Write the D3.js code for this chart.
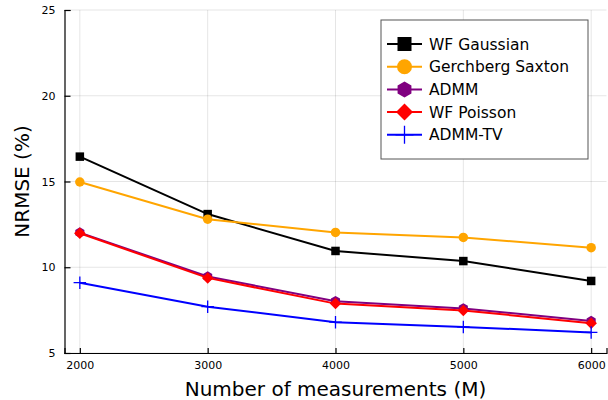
<!DOCTYPE html>
<html>
<head>
<meta charset="utf-8">
<script src="https://cdn.jsdelivr.net/npm/d3@7"></script>
<style>
  body { margin: 0; background: #fff; }
  svg { display: block; font-family: "DejaVu Sans", sans-serif; }
</style>
</head>
<body>
<script>
// canvas
var w = 608;
var h = 400;

// data
var measurements = [2000, 3000, 4000, 5000, 6000];
var wfGaussian = [16.45, 13.1, 10.95, 10.36, 9.2];
var gerchbergSaxton = [14.97, 12.8, 12.03, 11.74, 11.14];
var admm = [12.02, 9.46, 8.02, 7.6, 6.86];
var wfPoisson = [11.98, 9.38, 7.88, 7.48, 6.74];
var admmTv = [9.1, 7.7, 6.8, 6.52, 6.2];
var xTicks = [2000, 3000, 4000, 5000, 6000];
var yTicks = [5, 10, 15, 20, 25];

var series = [
  {name: "WF Gaussian", values: wfGaussian, color: "#000000", marker: "square"},
  {name: "Gerchberg Saxton", values: gerchbergSaxton, color: "#FFA500", marker: "circle"},
  {name: "ADMM", values: admm, color: "#800080", marker: "hexagon"},
  {name: "WF Poisson", values: wfPoisson, color: "#FF0000", marker: "diamond"},
  {name: "ADMM-TV", values: admmTv, color: "#0000FF", marker: "cross"}
];

var plotLeft = 64.5, plotRight = 606.5, plotTop = 10, plotBottom = 353;

var x = d3.scaleLinear().domain([1880, 6120]).range([plotLeft, plotRight]);
var y = d3.scaleLinear().domain([5, 25]).range([plotBottom, plotTop]);

var svg = d3.select("body").append("svg")
  .attr("width", w)
  .attr("height", h);

// grid
svg.append("g").selectAll("line").data(xTicks).enter().append("line")
  .attr("x1", function(d) { return x(d); }).attr("x2", function(d) { return x(d); })
  .attr("y1", plotTop).attr("y2", plotBottom)
  .attr("stroke", "#000").attr("stroke-opacity", 0.1).attr("stroke-width", 1);
svg.append("g").selectAll("line").data(yTicks).enter().append("line")
  .attr("x1", plotLeft).attr("x2", plotRight)
  .attr("y1", function(d) { return y(d); }).attr("y2", function(d) { return y(d); })
  .attr("stroke", "#000").attr("stroke-opacity", 0.1).attr("stroke-width", 1);

// axes (inward ticks)
var xAxis = svg.append("g")
  .attr("transform", "translate(0," + plotBottom + ")")
  .call(d3.axisTop(x).tickValues(xTicks).tickSize(5).tickFormat(d3.format("d")));
xAxis.selectAll("text").attr("y", 16).attr("dy", 0).attr("font-size", 11).attr("fill", "#000");
var yAxis = svg.append("g")
  .attr("transform", "translate(" + plotLeft + ",0)")
  .call(d3.axisRight(y).tickValues(yTicks).tickSize(6).tickFormat(d3.format("d")));
yAxis.selectAll("text").attr("x", -9).attr("text-anchor", "end").attr("font-size", 11).attr("fill", "#000");
[xAxis, yAxis].forEach(function(a) {
  a.select(".domain").attr("stroke", "#000").attr("stroke-width", 1.2);
  a.selectAll(".tick line").attr("stroke", "#000").attr("stroke-width", 1.2);
  a.attr("font-family", null);
});

// titles
svg.append("text")
  .attr("x", (plotLeft + plotRight) / 2).attr("y", 396)
  .attr("text-anchor", "middle").attr("font-size", 20)
  .text("Number of measurements (M)");
svg.append("text")
  .attr("transform", "translate(29," + ((plotTop + plotBottom) / 2) + ") rotate(-90)")
  .attr("text-anchor", "middle").attr("font-size", 20)
  .text("NRMSE (%)");

function drawMarker(g, type, color, s) {
  if (type == "square") {
    g.append("rect").attr("x", -s / 2).attr("y", -s / 2).attr("width", s).attr("height", s).attr("fill", color);
  } else if (type == "circle") {
    g.append("circle").attr("r", s / 2 + 0.5).attr("fill", color);
  } else if (type == "hexagon") {
    var r = s / 2 + 1;
    var pts = d3.range(6).map(function(k) {
      var a = Math.PI / 6 + k * Math.PI / 3;
      return [r * Math.cos(a), r * Math.sin(a)];
    });
    g.append("polygon").attr("points", pts.join(" ")).attr("fill", color);
  } else if (type == "diamond") {
    var r2 = s / 2 + 1.5;
    g.append("polygon").attr("points", [[0, -r2], [r2, 0], [0, r2], [-r2, 0]].join(" ")).attr("fill", color);
  } else if (type == "cross") {
    var r3 = s / 2 + 2;
    g.append("path").attr("d", "M" + (-r3) + ",0H" + r3 + "M0," + (-r3) + "V" + r3)
      .attr("stroke", color).attr("stroke-width", 1.3).attr("fill", "none");
  }
}

// lines and markers
var line = d3.line()
  .x(function(d) { return x(d[0]); })
  .y(function(d) { return y(d[1]); });

series.forEach(function(s) {
  var pts = measurements.map(function(m, i) { return [m, s.values[i]]; });
  svg.append("path")
    .datum(pts)
    .attr("d", line)
    .attr("fill", "none")
    .attr("stroke", s.color)
    .attr("stroke-width", 2);
  pts.forEach(function(p) {
    var g = svg.append("g").attr("transform", "translate(" + x(p[0]) + "," + y(p[1]) + ")");
    drawMarker(g, s.marker, s.color, 8.5);
  });
});

// legend
var legend = svg.append("g");
legend.append("rect")
  .attr("x", 381).attr("y", 20).attr("width", 207).attr("height", 139)
  .attr("fill", "#fff").attr("stroke", "#555").attr("stroke-width", 1);
series.forEach(function(s, i) {
  var ly = 44 + i * 22.7;
  legend.append("line")
    .attr("x1", 387).attr("x2", 422).attr("y1", ly).attr("y2", ly)
    .attr("stroke", s.color).attr("stroke-width", 2);
  var g = legend.append("g").attr("transform", "translate(404.5," + ly + ")");
  drawMarker(g, s.marker, s.color, 14);
  legend.append("text")
    .attr("x", 429).attr("y", ly + 5.5)
    .attr("font-size", 15.5)
    .text(s.name);
});
</script>
</body>
</html>
